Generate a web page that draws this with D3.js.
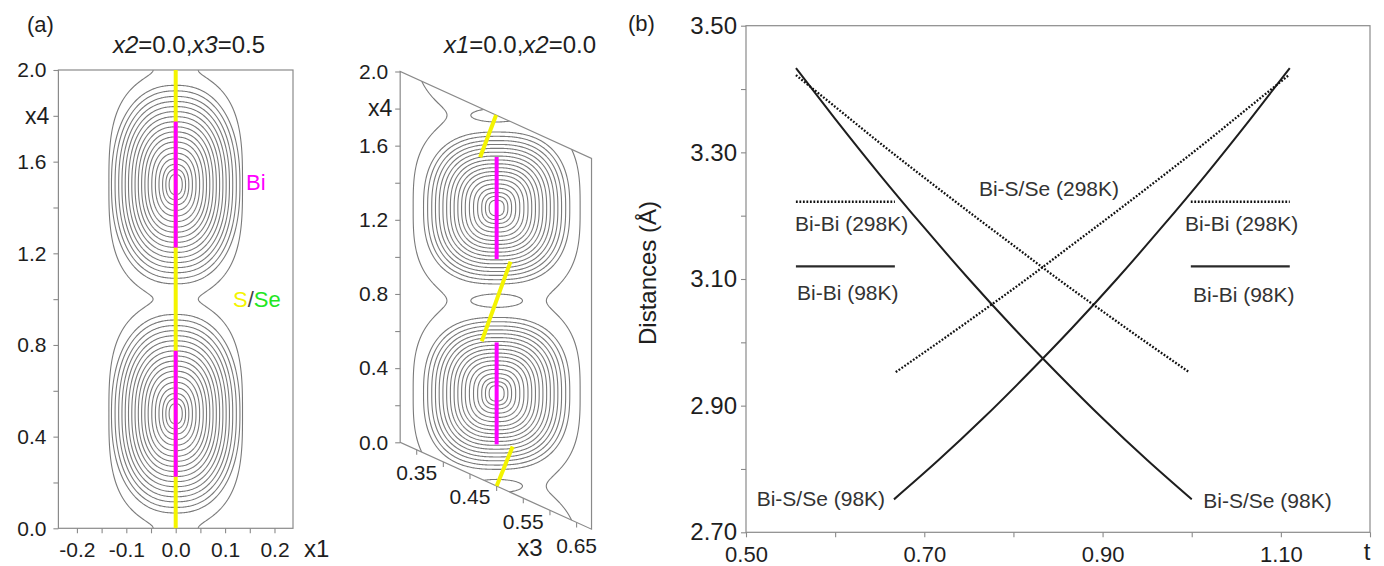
<!DOCTYPE html>
<html><head><meta charset="utf-8">
<script src="https://cdn.jsdelivr.net/npm/d3@7"></script>
<style>
body{margin:0;background:#fff}
svg{display:block}
text{font-family:Arial,"Liberation Sans",sans-serif}
</style>
</head><body>
<svg id="c" width="1384" height="566"></svg>
<script>
// ================= DATA =================
// Panel (a) left section: x2=0.0, x3=0.5
const a1XDomain = [-0.2375, 0.2375];
const x4Domain = [0, 2];
const a1XTicks = [-0.2, -0.15, -0.1, -0.05, 0, 0.05, 0.1, 0.15, 0.2];
const a1XLabels = [-0.2, -0.1, 0.0, 0.1, 0.2];
const x4Ticks = [0, 0.2, 0.4, 0.6, 0.8, 1.0, 1.2, 1.4, 1.6, 1.8, 2.0];
const x4Labels = [0.0, 0.4, 0.8, 1.2, 1.6, 2.0];
const biX4 = [-0.5, 0.5, 1.5, 2.5];             // Bi atomic positions along x4
const biDomains = [[0.225, 0.775], [1.225, 1.775]]; // magenta Bi domains
const sDomainA1 = [0, 2];                        // yellow S/Se domain (left section)
const ringLevels = [0.10, 0.15, 0.20, 0.255, 0.31, 0.365, 0.42, 0.47, 0.52, 0.57, 0.62, 0.67, 0.72, 0.77, 0.82, 0.87, 0.925, 0.98];
const mergedLevelA1 = 1.017;
const mergedLevelA2 = 1.114;

// Panel (a) right section: x1=0.0, x2=0.0
const a2XDomain = [0.319, 0.678];
const x3Ticks = [0.35, 0.40, 0.45, 0.50, 0.55, 0.60, 0.65];
const x3Labels = [0.35, 0.45, 0.55, 0.65];
const biX3 = 0.5;
const sX4 = [0, 1, 2];                           // S/Se positions along x4 (x3=0.5)
const sSegmentsA2 = [
  [[0.500, 0.000], [0.530, 0.253]],
  [[0.472, 0.745], [0.526, 1.245]],
  [[0.469, 1.733], [0.499, 2.000]]
];

// Panel (b)
const tDomain = [0.5, 1.2];
const dDomain = [2.7, 3.5];
const tMajor = [0.5, 0.7, 0.9, 1.1];
const tMinor = [0.6, 0.8, 1.0, 1.2];
const dMajor = [2.7, 2.9, 3.1, 3.3, 3.5];
const dMinor = [2.8, 3.0, 3.2, 3.4];
const t98Down  = [0.556, 0.60, 0.65, 0.70, 0.75, 0.80, 0.85, 0.90, 0.95, 1.00];
const d98Down  = [3.433, 3.353, 3.265, 3.181, 3.100, 3.023, 2.950, 2.880, 2.814, 2.752];
const t98Up    = [0.666, 0.716, 0.766, 0.816, 0.866, 0.916, 0.966, 1.016, 1.066, 1.110];
const d98Up    = [2.752, 2.814, 2.880, 2.950, 3.023, 3.100, 3.181, 3.265, 3.353, 3.433];
const t298Down = [0.556, 0.60, 0.65, 0.70, 0.75, 0.80, 0.85, 0.90, 0.95, 0.997];
const d298Down = [3.422, 3.372, 3.315, 3.260, 3.206, 3.153, 3.100, 3.049, 2.999, 2.953];
const t298Up   = [0.668, 0.715, 0.765, 0.815, 0.865, 0.915, 0.965, 1.015, 1.065, 1.109];
const d298Up   = [2.953, 2.999, 3.049, 3.100, 3.153, 3.206, 3.260, 3.315, 3.372, 3.422];
const biBi298 = 3.222;
const biBi98 = 3.120;
const keyRanges = [[0.556, 0.667], [0.999, 1.110]];

// ================= DRAW =================
const svg = d3.select('#c');
const GRID = '#8a8a8a', INK = '#1e1e1e', CONT = '#7a7a7a';
const YELLOW = '#f4f400', MAGENTA = '#ff00ff', GREEN = '#22e622';
const defs = svg.append('defs');

function superR(dx, dy, a, b, p) {
  return Math.pow(Math.pow(Math.abs(dx) / a, p) + Math.pow(Math.abs(dy) / b, p), 1 / p);
}
function drawContours(parent, x0, y0, nx, ny, fieldFn, levels) {
  const values = new Float64Array(nx * ny);
  for (let j = 0; j < ny; j++) for (let i = 0; i < nx; i++)
    values[j * nx + i] = -fieldFn(x0 + i + 0.5, y0 + j + 0.5);
  const cs = d3.contours().size([nx, ny]).thresholds(levels.map(l => -l))(values);
  parent.append('g').attr('transform', `translate(${x0},${y0})`)
    .selectAll('path').data(cs).join('path')
    .attr('d', d3.geoPath()).attr('fill', 'none')
    .attr('stroke', CONT).attr('stroke-width', 1.1);
}
function styleAxis(g, fs) {
  g.select('.domain').remove();
  g.selectAll('.tick line').attr('stroke', GRID).attr('stroke-width', 1.1);
  g.selectAll('.tick text').attr('fill', INK).style('font-size', fs + 'px').style('font-family', 'Arial,"Liberation Sans",sans-serif');
}
const fmt1 = d => d3.format('.1f')(d).replace('−', '-');

// ---------- Panel (a) left ----------
const sx1 = d3.scaleLinear().domain(a1XDomain).range([58.4, 293.0]);
const sy1 = d3.scaleLinear().domain(x4Domain).range([528.3, 70]);
defs.append('clipPath').attr('id', 'clipA1').append('rect')
  .attr('x', sx1.range()[0]).attr('y', sy1(2)).attr('width', sx1.range()[1] - sx1.range()[0]).attr('height', sy1(0) - sy1(2));
const gA1 = svg.append('g').attr('clip-path', 'url(#clipA1)');
{
  const x0 = Math.floor(sx1.range()[0]) - 1, y0 = Math.floor(sy1(2)) - 1;
  const nx = Math.ceil(sx1.range()[1]) - x0 + 2, ny = Math.ceil(sy1(0)) - y0 + 2;
  const ring = (px, py) => { const x1 = sx1.invert(px), x4 = sy1.invert(py);
    let m = Infinity; for (const c of biX4) m = Math.min(m, superR(x1, x4 - c, 0.1327, 0.442, 2.35)); return m; };
  const merged = (px, py) => { const x1 = sx1.invert(px), x4 = sy1.invert(py);
    let s = 0; for (const c of biX4) s += Math.pow(superR(x1, x4 - c, 0.1327, 0.442, 3), -6); return Math.pow(s, -1 / 6); };
  drawContours(gA1, x0, y0, nx, ny, ring, ringLevels);
  drawContours(gA1, x0, y0, nx, ny, merged, [mergedLevelA1]);
}
svg.append('rect').attr('x', sx1.range()[0]).attr('y', sy1(2))
  .attr('width', sx1.range()[1] - sx1.range()[0]).attr('height', sy1(0) - sy1(2))
  .attr('fill', 'none').attr('stroke', GRID).attr('stroke-width', 1.2);
svg.append('line').attr('x1', sx1(0)).attr('x2', sx1(0)).attr('y1', sy1(sDomainA1[0])).attr('y2', sy1(sDomainA1[1]))
  .attr('stroke', YELLOW).attr('stroke-width', 4);
svg.selectAll('.bi1').data(biDomains).join('line')
  .attr('x1', sx1(0)).attr('x2', sx1(0)).attr('y1', d => sy1(d[0])).attr('y2', d => sy1(d[1]))
  .attr('stroke', MAGENTA).attr('stroke-width', 4);
const ax1 = svg.append('g').attr('transform', `translate(0,${sy1(0)})`)
  .call(d3.axisBottom(sx1).tickValues(a1XTicks).tickSize(5).tickPadding(8.5)
    .tickFormat(d => a1XLabels.some(v => Math.abs(v - d) < 1e-9) ? fmt1(d) : ''));
styleAxis(ax1, 21);
const ay1 = svg.append('g').attr('transform', `translate(${sx1.range()[0]},0)`)
  .call(d3.axisLeft(sy1).tickValues(x4Ticks).tickSize(5).tickPadding(7)
    .tickFormat(d => Math.abs(d - 1.8) < 1e-9 ? 'x4' : (x4Labels.some(v => Math.abs(v - d) < 1e-9) ? fmt1(d) : '')));
styleAxis(ay1, 21);
ay1.selectAll('.tick text').filter(d => Math.abs(d - 1.8) < 1e-9).style('font-size', '23px').attr('dx', 3);
svg.append('text').attr('x', 304).attr('y', 557).attr('fill', INK).style('font-size', '24px').text('x1');
svg.append('text').attr('x', 27).attr('y', 32).attr('fill', INK).style('font-size', '22px').text('(a)');
const t1 = svg.append('text').attr('x', 189).attr('y', 53).attr('text-anchor', 'middle').attr('fill', INK).style('font-size', '24px');
t1.append('tspan').style('font-style', 'italic').text('x2');
t1.append('tspan').text('=0.0,');
t1.append('tspan').style('font-style', 'italic').text('x3');
t1.append('tspan').text('=0.5');
svg.append('text').attr('x', 246).attr('y', 190).attr('fill', MAGENTA).style('font-size', '22px').text('Bi');
const sse = svg.append('text').attr('x', 233).attr('y', 307).style('font-size', '22px');
sse.append('tspan').attr('fill', YELLOW).text('S');
sse.append('tspan').attr('fill', '#444').text('/');
sse.append('tspan').attr('fill', GREEN).text('Se');

// ---------- Panel (a) right (sheared section) ----------
const sx2 = d3.scaleLinear().domain([0.35, 0.65]).range([416.7, 576.6]);
const syW = d3.scaleLinear().domain(x4Domain).range([442.3, 71.5]);
const SHEAR = 0.454;
const proj2 = (x3, x4) => [sx2(x3), syW(x4) + SHEAR * (sx2(x3) - sx2(a2XDomain[0]))];
const corners = [proj2(a2XDomain[0], 0), proj2(a2XDomain[0], 2), proj2(a2XDomain[1], 2), proj2(a2XDomain[1], 0)];
defs.append('clipPath').attr('id', 'clipA2').append('polygon').attr('points', corners.map(p => p.join(',')).join(' '));
const gA2 = svg.append('g').attr('clip-path', 'url(#clipA2)');
{
  const pxPerX3 = (sx2(0.65) - sx2(0.35)) / 0.3, pxPerW = (syW(0) - syW(1));
  const biPts = biX4.map(x4 => proj2(biX3, x4));
  const sPts = sX4.map(x4 => proj2(biX3, x4));
  const x0 = 396, y0 = 60, nx = 200, ny = 490;
  const ring = (px, py) => { let m = Infinity;
    for (const [bx, by] of biPts) m = Math.min(m, superR((px - bx) / pxPerX3, (py - by) / pxPerW, 0.14, 0.418, 2.6)); return m; };
  const merged = (px, py) => { let s = 0;
    for (const [bx, by] of biPts) s += Math.pow(superR((px - bx) / pxPerX3, (py - by) / pxPerW, 0.14, 0.418, 3), -5.6); return Math.pow(s, -1 / 5.6); };
  const sField = (px, py) => { let m = Infinity;
    for (const [bx, by] of sPts) m = Math.min(m, Math.hypot((px - bx) / pxPerX3 / 0.0485, (py - by) / pxPerW / 0.036)); return m; };
  drawContours(gA2, x0, y0, nx, ny, ring, ringLevels);
  drawContours(gA2, x0, y0, nx, ny, merged, [mergedLevelA2]);
  drawContours(gA2, x0, y0, nx, ny, sField, [1]);
}
svg.append('polygon').attr('points', corners.map(p => p.join(',')).join(' '))
  .attr('fill', 'none').attr('stroke', GRID).attr('stroke-width', 1.2);
svg.selectAll('.bi2').data(biDomains).join('line')
  .attr('x1', d => proj2(biX3, d[0])[0]).attr('y1', d => proj2(biX3, d[0])[1])
  .attr('x2', d => proj2(biX3, d[1])[0]).attr('y2', d => proj2(biX3, d[1])[1])
  .attr('stroke', MAGENTA).attr('stroke-width', 4);
svg.selectAll('.s2').data(sSegmentsA2).join('line')
  .attr('x1', d => proj2(...d[0])[0]).attr('y1', d => proj2(...d[0])[1])
  .attr('x2', d => proj2(...d[1])[0]).attr('y2', d => proj2(...d[1])[1])
  .attr('stroke', YELLOW).attr('stroke-width', 4);
const ay2 = svg.append('g').attr('transform', `translate(${sx2(a2XDomain[0])},0)`)
  .call(d3.axisLeft(syW).tickValues(x4Ticks).tickSize(5).tickPadding(7)
    .tickFormat(d => Math.abs(d - 1.8) < 1e-9 ? 'x4' : (x4Labels.some(v => Math.abs(v - d) < 1e-9) ? fmt1(d) : '')));
styleAxis(ay2, 21);
ay2.selectAll('.tick text').filter(d => Math.abs(d - 1.8) < 1e-9).style('font-size', '23px').attr('dx', 4);
const xt2 = svg.append('g');
x3Ticks.forEach(v => {
  const [px, py] = proj2(v, 0);
  xt2.append('line').attr('x1', px).attr('x2', px).attr('y1', py).attr('y2', py + 5).attr('stroke', GRID).attr('stroke-width', 1.1);
  if (x3Labels.some(l => Math.abs(l - v) < 1e-9))
    xt2.append('text').attr('x', px).attr('y', py + 23).attr('dy', '0.35em').attr('text-anchor', 'middle')
      .attr('fill', INK).style('font-size', '21px').text(d3.format('.2f')(v));
});
svg.append('text').attr('x', 530).attr('y', 556).attr('text-anchor', 'middle').attr('fill', INK).style('font-size', '24px').text('x3');
const t2 = svg.append('text').attr('x', 520).attr('y', 53).attr('text-anchor', 'middle').attr('fill', INK).style('font-size', '24px');
t2.append('tspan').style('font-style', 'italic').text('x1');
t2.append('tspan').text('=0.0,');
t2.append('tspan').style('font-style', 'italic').text('x2');
t2.append('tspan').text('=0.0');

// ---------- Panel (b) ----------
const sxB = d3.scaleLinear().domain(tDomain).range([746, 1370]);
const syB = d3.scaleLinear().domain(dDomain).range([532.3, 25.7]);
svg.append('rect').attr('x', 746).attr('y', syB(3.5)).attr('width', sxB(1.2) - 746).attr('height', syB(2.7) - syB(3.5))
  .attr('fill', 'none').attr('stroke', GRID).attr('stroke-width', 1.2);
const axB = svg.append('g').attr('transform', `translate(0,${syB(2.7)})`)
  .call(d3.axisBottom(sxB).tickValues(tMajor.concat(tMinor)).tickSize(5).tickPadding(9)
    .tickFormat(d => tMajor.some(v => Math.abs(v - d) < 1e-9) ? d3.format('.2f')(d) : ''));
styleAxis(axB, 22);
const ayB = svg.append('g').attr('transform', `translate(746,0)`)
  .call(d3.axisLeft(syB).tickValues(dMajor.concat(dMinor)).tickSize(5).tickPadding(4)
    .tickFormat(d => dMajor.some(v => Math.abs(v - d) < 1e-9) ? d3.format('.2f')(d) : ''));
styleAxis(ayB, 24);
svg.append('text').attr('transform', 'translate(648,273) rotate(-90)').attr('dy', '0.35em')
  .attr('text-anchor', 'middle').attr('fill', INK).style('font-size', '24px').text('Distances (Å)');
svg.append('text').attr('x', 1367).attr('y', 560).attr('text-anchor', 'middle').attr('fill', INK).style('font-size', '24px').text('t');
svg.append('text').attr('x', 628).attr('y', 31).attr('fill', INK).style('font-size', '22px').text('(b)');

const lineB = d3.line().x(d => sxB(d[0])).y(d => syB(d[1])).curve(d3.curveMonotoneX);
const zip = (a, b) => a.map((v, i) => [v, b[i]]);
const series = [
  { pts: zip(t98Down, d98Down), dotted: false },
  { pts: zip(t98Up, d98Up), dotted: false },
  { pts: zip(t298Down, d298Down), dotted: true },
  { pts: zip(t298Up, d298Up), dotted: true }
];
const DOT = '1.8,1.7';
svg.selectAll('.curve').data(series).join('path')
  .attr('d', d => lineB(d.pts)).attr('fill', 'none').attr('stroke', d => d.dotted ? '#111' : INK)
  .attr('stroke-width', d => d.dotted ? 2.3 : 2)
  .attr('stroke-dasharray', d => d.dotted ? DOT : null);
keyRanges.forEach(r => {
  svg.append('line').attr('x1', sxB(r[0])).attr('x2', sxB(r[1])).attr('y1', syB(biBi298)).attr('y2', syB(biBi298))
    .attr('stroke', '#111').attr('stroke-width', 2.3).attr('stroke-dasharray', DOT);
  svg.append('line').attr('x1', sxB(r[0])).attr('x2', sxB(r[1])).attr('y1', syB(biBi98)).attr('y2', syB(biBi98))
    .attr('stroke', '#2a2a2a').attr('stroke-width', 2.4);
});
const LAB = '#333';
const labs = [
  { x: 795, y: 230.5, t: 'Bi-Bi (298K)', a: 'start' },
  { x: 797, y: 299.5, t: 'Bi-Bi (98K)', a: 'start' },
  { x: 1119, y: 195.5, t: 'Bi-S/Se (298K)', a: 'end' },
  { x: 1185, y: 230.5, t: 'Bi-Bi (298K)', a: 'start' },
  { x: 1193, y: 301.5, t: 'Bi-Bi (98K)', a: 'start' },
  { x: 756.7, y: 506, t: 'Bi-S/Se (98K)', a: 'start' },
  { x: 1203.3, y: 507.5, t: 'Bi-S/Se (98K)', a: 'start' }
];
svg.selectAll('.lab').data(labs).join('text')
  .attr('x', d => d.x).attr('y', d => d.y).attr('text-anchor', d => d.a)
  .attr('fill', LAB).style('font-size', '21px').text(d => d.t);
</script>
</body></html>
